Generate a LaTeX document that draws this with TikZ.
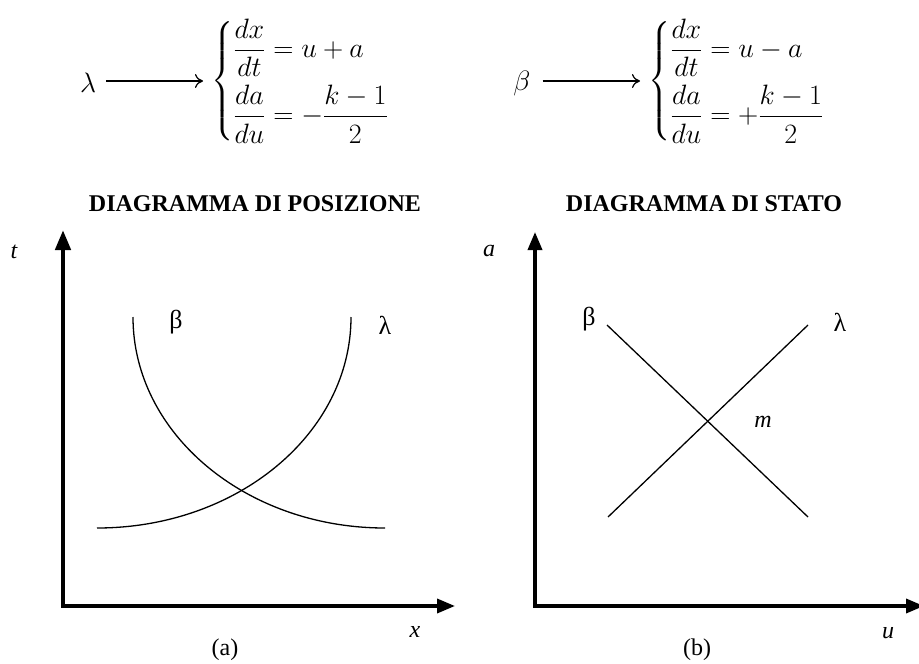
\RequirePackage{fix-cm}
\documentclass[tikz,border=0pt]{standalone}
\usepackage{amsmath}
\usepackage[no-math]{fontspec}
\newfontfamily\tms{Liberation Serif}
\usetikzlibrary{arrows.meta}
\begin{document}
\begin{tikzpicture}[x=1pt,y=-1pt,
  eq/.style={inner sep=0pt, font=\fontsize{28}{34}\selectfont},
  ttl/.style={font=\tms\bfseries\fontsize{24}{28}\selectfont, inner sep=0pt},
  lbl/.style={font=\tms\itshape\fontsize{24}{28}\selectfont, inner sep=0pt},
  grk/.style={font=\tms\fontsize{26}{30}\selectfont, inner sep=0pt},
  capt/.style={font=\tms\fontsize{24}{28}\selectfont, inner sep=0pt},
  eqarrow/.style={line width=1.2pt, -{To[length=8pt,width=14pt]}},
  axisthick/.style={line width=4.5pt, -{Triangle[length=20pt,width=15pt]}},
  axisthin/.style={line width=3.5pt, -{Triangle[length=18pt,width=14pt]}},
  curve/.style={line width=1.3pt}
]
\useasboundingbox (0,0) rectangle (919,664);
\clip (0,0) rectangle (919,664);

% equations
\node[eq] (lam) at (88,83) {$\lambda$};
\node[eq, anchor=west] (sysL) at (211,81) {$\left\{\begin{array}{@{}l@{}}\dfrac{dx}{dt}=u+a\\[18pt]\dfrac{da}{du}=-\dfrac{k-1}{2}\end{array}\right.$};
\draw[eqarrow, shorten <=10pt, shorten >=8pt] (lam.east |- sysL.west) -- (sysL.west);

\node[eq] (bet) at (522,83) {$\beta$};
\node[eq, anchor=west] (sysR) at (648,81) {$\left\{\begin{array}{@{}l@{}}\dfrac{dx}{dt}=u-a\\[18pt]\dfrac{da}{du}=+\dfrac{k-1}{2}\end{array}\right.$};
\draw[eqarrow, shorten <=12pt, shorten >=8pt] (bet.east |- sysR.west) -- (sysR.west);

% titles
\node[ttl] (t1) at (255,204) {DIAGRAMMA DI POSIZIONE};
\node[ttl] (t2) at (704,204) {DIAGRAMMA DI STATO};

% left diagram
\coordinate (oL) at (63,606);
\draw[axisthick] ([yshift=2pt]oL) -- (63,230);
\draw[axisthin] ([xshift=-2pt]oL) -- (455,606);
\node[lbl] (tl) at (14,252) {t};
\node[lbl] (xl) at (415,632) {x};
\node[capt] (ca) at (225,650) {(a)};
\draw[curve] (133,317) arc[start angle=180, end angle=90, x radius=252, y radius=211];
\draw[curve] (351,317) arc[start angle=0, end angle=90, x radius=254, y radius=211];
\node[grk] (bL) at (176,322) {β};
\node[grk] (lL) at (385,325) {λ};

% right diagram
\coordinate (oR) at (535,606);
\draw[axisthin] ([yshift=1.75pt]oR) -- (535,232);
\draw[axisthin] ([xshift=-1.75pt]oR) -- (924,606);
\node[lbl] (al) at (489,251) {a};
\node[lbl] (ul) at (888,633) {u};
\node[capt] (cb) at (697,650) {(b)};
\draw[curve] (607,325) -- (808,517);
\draw[curve] (608,517) -- (808,325);
\node[grk] (bR) at (589,319) {β};
\node[grk] (lR) at (840,322) {λ};
\node[lbl] (ml) at (763,422) {m};
\end{tikzpicture}
\end{document}
